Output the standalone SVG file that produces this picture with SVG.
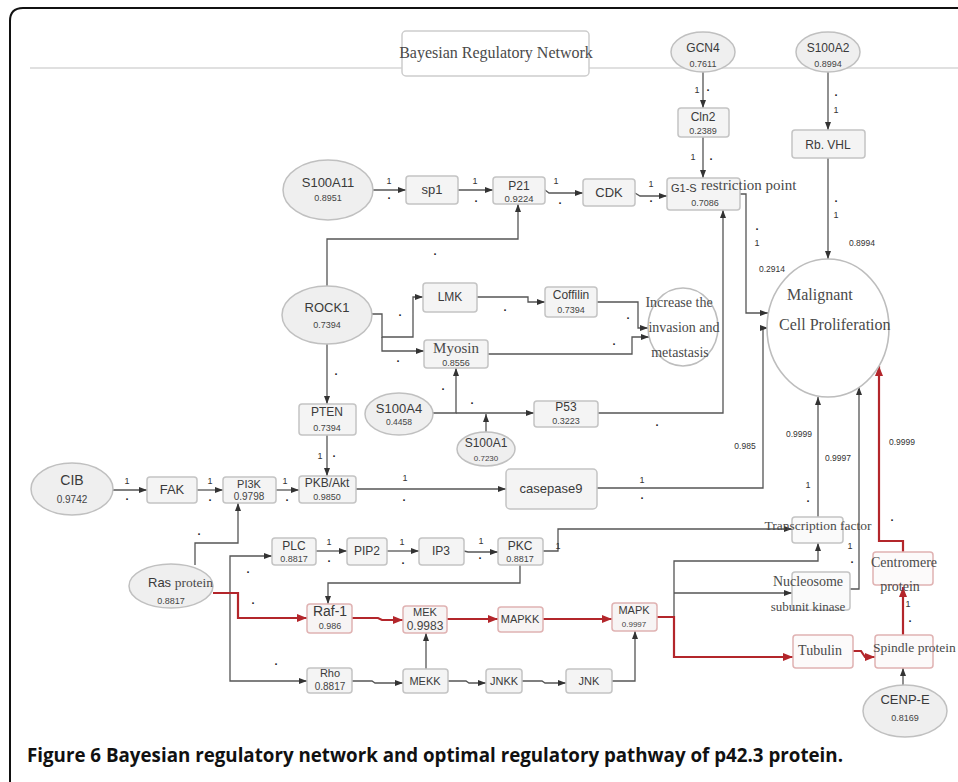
<svg xmlns="http://www.w3.org/2000/svg" width="958" height="782" viewBox="0 0 958 782">
<defs>
<marker id="ag" markerUnits="userSpaceOnUse" markerWidth="8" markerHeight="6" refX="8" refY="3" orient="auto"><path d="M0,0 L8,3 L0,6 z" fill="#333"/></marker>
<marker id="ar" markerUnits="userSpaceOnUse" markerWidth="10" markerHeight="8" refX="10" refY="4" orient="auto"><path d="M0,0 L10,4 L0,8 z" fill="#b3262b"/></marker>
<style>
.r{fill:#f4f4f4;stroke:#c4c4c4;stroke-width:1.5}
.rr{fill:#f7f4f4;stroke:#e0b2b2;stroke-width:1.5}
.e{fill:#efefef;stroke:#c0c0c0;stroke-width:1.5}
.w{fill:#fff;stroke:#bdbdbd;stroke-width:1.6}
.n{font-family:"Liberation Sans",Arial,sans-serif;fill:#3a3a3a;text-anchor:middle}
.v{font-family:"Liberation Sans",Arial,sans-serif;fill:#444;text-anchor:middle}
.s{font-family:"Liberation Serif","Times New Roman",serif;fill:#4a4a4a}
.l{font-family:"Liberation Sans",Arial,sans-serif;fill:#333;text-anchor:middle}
.d{font-family:"Liberation Sans",Arial,sans-serif;fill:#222;text-anchor:middle;font-size:11px;font-weight:bold}
.g path{fill:none;stroke:#555;stroke-width:1.3;marker-end:url(#ag)}
.red path{fill:none;stroke:#b3262b;stroke-width:2.2;marker-end:url(#ar)}
</style>
</defs>
<rect width="958" height="782" fill="#fff"/>
<path d="M958,8 H23 Q10,8 10,21 V782" fill="none" stroke="#111" stroke-width="2"/>
<line x1="30" y1="68" x2="958" y2="68" stroke="#e0e0e0" stroke-width="2"/>
<g id="title">
<rect x="402" y="31" width="187" height="45" rx="4" fill="#fff" stroke="#cdcdcd" stroke-width="1.5"/>
<text class="s" x="496" y="58" font-size="16" text-anchor="middle">Bayesian Regulatory Network</text>
</g>

<g id="connectors">
<g class="g">
<path d="M373,190 H406"/>
<path d="M458,190 H493"/>
<path d="M545,190 l4,3 H583"/>
<path d="M635,193 l5,3 H667"/>
<path d="M703,72 V108"/>
<path d="M703,137 V178"/>
<path d="M828,72 V130"/>
<path d="M828,158 V259"/>
<path d="M740,194 H746 V313 H768"/>
<path d="M327,286 V239 H518 V204"/>
<path d="M372,314 H382 V337 H413 V297 H423"/>
<path d="M382,337 V351 H424"/>
<path d="M477,297 H528 V302 H545"/>
<path d="M597,302 H638 V328 H648"/>
<path d="M488,354 H632 V337 H649"/>
<path d="M327,343 V404"/>
<path d="M327,435 V476"/>
<path d="M433,413 H456 V368"/>
<path d="M456,413 H534"/>
<path d="M486,432 V414"/>
<path d="M598,413 H723 V210"/>
<path d="M113,490 H147"/>
<path d="M197,490 H223"/>
<path d="M276,490 H299"/>
<path d="M356,489 H506"/>
<path d="M597,488 H763 V328 H768"/>
<path d="M195,565 V543 H238 V503"/>
<path d="M230,593 V556 H272"/>
<path d="M230,593 V681 H307"/>
<path d="M316,551 H347"/>
<path d="M387,551 H419"/>
<path d="M464,551 l4,1 H498"/>
<path d="M520,565 V583 H328 V604"/>
<path d="M543,551 H558 V529 H792"/>
<path d="M352,681 H372 l3,2 H403"/>
<path d="M448,681 H466 l3,2 H486"/>
<path d="M522,681 H542 l3,2 H566"/>
<path d="M612,681 H635 V631"/>
<path d="M426,669 V633"/>
<path d="M674,617 V561 H818 V543"/>
<path d="M674,593 H792"/>
<path d="M818,517 V397"/>
<path d="M850,589 H859 V387"/>
<path d="M903,685 V668"/>
</g>
<g class="red">
<path d="M213,593 H238 V618 H307"/>
<path d="M352,618 H378 l4,2 H403"/>
<path d="M447,619 H498"/>
<path d="M543,619 H612"/>
<path d="M657,617 H674 V657 H793"/>
<path d="M853,651 H861 l4,6 H875"/>
<path d="M903,635 V587"/>
<path d="M903,552 V541 H879 V366"/>
</g>
<g id="edge-labels" font-size="9">
<text class="l" x="389" y="184">1</text><text class="d" x="389" y="199">.</text>
<text class="l" x="475" y="184">1</text><text class="d" x="476" y="202">.</text>
<text class="l" x="556" y="184">1</text><text class="d" x="560" y="204">.</text>
<text class="l" x="651" y="187">1</text><text class="d" x="651" y="202">.</text>
<text class="l" x="697" y="93">1</text><text class="d" x="708" y="91">.</text>
<text class="l" x="693" y="160">1</text><text class="d" x="711" y="160">.</text>
<text class="d" x="836" y="96">.</text><text class="l" x="836" y="113">1</text>
<text class="d" x="836" y="202">.</text><text class="l" x="836" y="218">1</text>
<text class="l" x="862" y="246" font-size="8.5">0.8994</text>
<text class="d" x="757" y="230">.</text><text class="l" x="757" y="246">1</text>
<text class="l" x="772" y="272" font-size="8.5">0.2914</text>
<text class="d" x="435" y="255">.</text>
<text class="d" x="400" y="316">.</text>
<text class="d" x="398" y="362">.</text>
<text class="d" x="505" y="311">.</text>
<text class="d" x="628" y="319">.</text>
<text class="d" x="614" y="345">.</text>
<text class="d" x="336" y="375">.</text>
<text class="l" x="320" y="459">1</text><text class="d" x="334" y="457">.</text>
<text class="d" x="443" y="390">.</text>
<text class="d" x="472" y="404">.</text>
<text class="d" x="657" y="426">.</text>
<text class="l" x="127" y="484">1</text><text class="d" x="127" y="500">.</text>
<text class="l" x="210" y="484">1</text><text class="d" x="210" y="501">.</text>
<text class="l" x="285" y="484">1</text><text class="d" x="287" y="501">.</text>
<text class="l" x="405" y="481">1</text><text class="d" x="404" y="501">.</text>
<text class="l" x="642" y="483">1</text><text class="d" x="642" y="499">.</text>
<text class="l" x="745" y="449" font-size="8.5">0.985</text>
<text class="d" x="199" y="535">.</text>
<text class="d" x="248" y="573">.</text>
<text class="d" x="253" y="604">.</text>
<text class="d" x="276" y="665">.</text>
<text class="l" x="329" y="545">1</text><text class="d" x="329" y="562">.</text>
<text class="l" x="402" y="545">1</text><text class="d" x="403" y="564">.</text>
<text class="l" x="481" y="544">1</text><text class="d" x="480" y="559">.</text>
<text class="l" x="558" y="549">1</text>
<text class="l" x="799" y="437" font-size="8.5">0.9999</text>
<text class="l" x="808" y="488">1</text><text class="d" x="808" y="502">.</text>
<text class="l" x="838" y="461" font-size="8.5">0.9997</text>
<text class="l" x="850" y="549">1</text><text class="d" x="852" y="563">.</text>
<text class="l" x="908" y="607">1</text><text class="d" x="910" y="622">.</text>
<text class="l" x="902" y="445" font-size="8.5">0.9999</text>
<text class="d" x="892" y="521">.</text>
</g>
</g>

<g id="S100A11"><ellipse class="e" cx="328" cy="190" rx="45" ry="30"/><text class="n" x="328" y="187" font-size="13">S100A11</text><text class="v" x="328" y="201" font-size="9">0.8951</text></g>
<g id="sp1"><rect class="r" x="406" y="176" width="52" height="28" rx="3"/><text class="n" x="432" y="194" font-size="13">sp1</text></g>
<g id="P21"><rect class="r" x="493" y="177" width="52" height="27" rx="3"/><text class="n" x="519" y="190" font-size="12">P21</text><text class="v" x="519" y="202" font-size="9.5">0.9224</text></g>
<g id="CDK"><rect class="r" x="583" y="179" width="52" height="27" rx="3"/><text class="n" x="609" y="197" font-size="13">CDK</text></g>
<g id="G1-S"><rect class="r" x="667" y="178" width="73" height="32" rx="3"/><text class="n" x="671" y="192" font-size="11" style="text-anchor:start">G1-S</text><text class="s" x="701" y="190" font-size="15">restriction point</text><text class="v" x="705" y="206" font-size="9">0.7086</text></g>
<g id="GCN4"><ellipse class="e" cx="703" cy="52" rx="32" ry="20"/><text class="n" x="703" y="52" font-size="12">GCN4</text><text class="v" x="703" y="67" font-size="9">0.7611</text></g>
<g id="Cln2"><rect class="r" x="678" y="108" width="51" height="29" rx="3"/><text class="n" x="703" y="121" font-size="12">Cln2</text><text class="v" x="703" y="134" font-size="9">0.2389</text></g>
<g id="S100A2"><ellipse class="e" cx="828" cy="52" rx="32" ry="20"/><text class="n" x="828" y="52" font-size="12">S100A2</text><text class="v" x="828" y="67" font-size="9">0.8994</text></g>
<g id="RbVHL"><rect class="r" x="792" y="130" width="73" height="28" rx="3"/><text class="n" x="828" y="149" font-size="12">Rb. VHL</text></g>
<g id="Malignant"><ellipse class="w" cx="828" cy="328" rx="61" ry="69"/><text class="s" x="787" y="300" font-size="16">Malignant</text><text class="s" x="779" y="330" font-size="16">Cell Proliferation</text></g>
<g id="ROCK1"><ellipse class="e" cx="327" cy="315" rx="45" ry="29"/><text class="n" x="327" y="312" font-size="13">ROCK1</text><text class="v" x="327" y="328" font-size="9">0.7394</text></g>
<g id="LMK"><rect class="r" x="423" y="283" width="54" height="29" rx="3"/><text class="n" x="450" y="301" font-size="12">LMK</text></g>
<g id="Coffilin"><rect class="r" x="545" y="287" width="52" height="30" rx="3"/><text class="n" x="571" y="299" font-size="12">Coffilin</text><text class="v" x="571" y="313" font-size="9">0.7394</text></g>
<g id="Myosin"><rect class="r" x="424" y="340" width="64" height="28" rx="3"/><text class="s" x="456" y="353" font-size="15" text-anchor="middle">Myosin</text><text class="v" x="456" y="366" font-size="9">0.8556</text></g>
<g id="Increase"><ellipse class="w" cx="683" cy="327" rx="35" ry="39"/><text class="s" x="679" y="307" font-size="14" text-anchor="middle">Increase the</text><text class="s" x="684" y="332" font-size="14" text-anchor="middle">invasion and</text><text class="s" x="680" y="357" font-size="14" text-anchor="middle">metastasis</text></g>
<g id="PTEN"><rect class="r" x="299" y="404" width="57" height="31" rx="3"/><text class="n" x="327" y="416" font-size="12">PTEN</text><text class="v" x="327" y="431" font-size="9">0.7394</text></g>
<g id="S100A4"><ellipse class="e" cx="399" cy="414" rx="34" ry="21"/><text class="n" x="399" y="413" font-size="13">S100A4</text><text class="v" x="399" y="425" font-size="8.5">0.4458</text></g>
<g id="S100A1"><ellipse class="e" cx="486" cy="449" rx="29" ry="17"/><text class="n" x="486" y="447" font-size="12">S100A1</text><text class="v" x="486" y="461" font-size="8">0.7230</text></g>
<g id="P53"><rect class="r" x="534" y="401" width="64" height="26" rx="3"/><text class="n" x="566" y="411" font-size="12">P53</text><text class="v" x="566" y="424" font-size="9">0.3223</text></g>
<g id="CIB"><ellipse class="e" cx="72" cy="489" rx="41" ry="26"/><text class="n" x="72" y="485" font-size="14">CIB</text><text class="v" x="72" y="503" font-size="10">0.9742</text></g>
<g id="FAK"><rect class="r" x="147" y="477" width="50" height="26" rx="3"/><text class="n" x="172" y="494" font-size="13">FAK</text></g>
<g id="PI3K"><rect class="r" x="223" y="477" width="53" height="26" rx="3"/><text class="n" x="249" y="488" font-size="11">PI3K</text><text class="v" x="249" y="500" font-size="10">0.9798</text></g>
<g id="PKBAkt"><rect class="r" x="299" y="476" width="57" height="27" rx="3"/><text class="n" x="327" y="487" font-size="12">PKB/Akt</text><text class="v" x="327" y="500" font-size="9">0.9850</text></g>
<g id="casepase9"><rect class="r" x="506" y="469" width="91" height="40" rx="4"/><text class="n" x="551" y="493" font-size="13">casepase9</text></g>
<g id="Ras"><ellipse class="e" cx="171" cy="586" rx="42" ry="22"/><text x="148" y="587" font-size="13"><tspan class="n" style="text-anchor:start">Ras </tspan><tspan class="s" font-size="13.5">protein</tspan></text><text class="v" x="171" y="604" font-size="9">0.8817</text></g>
<g id="PLC"><rect class="r" x="272" y="538" width="44" height="27" rx="3"/><text class="n" x="294" y="550" font-size="12">PLC</text><text class="v" x="294" y="562" font-size="9">0.8817</text></g>
<g id="PIP2"><rect class="r" x="347" y="538" width="40" height="27" rx="3"/><text class="n" x="367" y="555" font-size="12">PIP2</text></g>
<g id="IP3"><rect class="r" x="419" y="538" width="45" height="27" rx="3"/><text class="n" x="441" y="555" font-size="12">IP3</text></g>
<g id="PKC"><rect class="r" x="498" y="538" width="45" height="27" rx="3"/><text class="n" x="520" y="550" font-size="12">PKC</text><text class="v" x="520" y="562" font-size="9">0.8817</text></g>
<g id="Raf-1"><rect class="rr" x="307" y="604" width="45" height="29" rx="3"/><text class="n" x="330" y="616" font-size="14">Raf-1</text><text class="v" x="330" y="629" font-size="9">0.986</text></g>
<g id="MEK"><rect class="rr" x="403" y="606" width="44" height="27" rx="3"/><text class="n" x="425" y="616" font-size="11">MEK</text><text class="v" x="425" y="630" font-size="12">0.9983</text></g>
<g id="MAPKK"><rect class="rr" x="498" y="607" width="45" height="25" rx="3"/><text class="n" x="520" y="623" font-size="11">MAPKK</text></g>
<g id="MAPK"><rect class="rr" x="612" y="603" width="45" height="28" rx="3"/><text class="n" x="634" y="614" font-size="11">MAPK</text><text class="v" x="634" y="627" font-size="8">0.9997</text></g>
<g id="Rho"><rect class="r" x="307" y="668" width="45" height="25" rx="3"/><text class="n" x="330" y="677" font-size="11">Rho</text><text class="v" x="330" y="690" font-size="10">0.8817</text></g>
<g id="MEKK"><rect class="r" x="403" y="669" width="45" height="24" rx="3"/><text class="n" x="425" y="685" font-size="11">MEKK</text></g>
<g id="JNKK"><rect class="r" x="486" y="669" width="36" height="24" rx="3"/><text class="n" x="504" y="685" font-size="11">JNKK</text></g>
<g id="JNK"><rect class="r" x="566" y="669" width="46" height="24" rx="3"/><text class="n" x="589" y="685" font-size="11">JNK</text></g>
<g id="Transcription"><rect class="r" x="792" y="517" width="51" height="26" rx="3" style="fill:#fafafa"/><text class="s" x="818" y="530" font-size="13.5" text-anchor="middle">Transcription factor</text></g>
<g id="Nucleosome"><rect class="r" x="792" y="572" width="58" height="38" rx="3" style="fill:#fafafa"/><text class="s" x="808" y="586" font-size="14" text-anchor="middle">Nucleosome</text><text class="s" x="808" y="611" font-size="13" text-anchor="middle">subunit kinase</text></g>
<g id="Tubulin"><rect class="rr" x="793" y="635" width="60" height="33" rx="3" style="fill:#fcfafa"/><text class="s" x="820" y="655" font-size="14" text-anchor="middle">Tubulin</text></g>
<g id="Spindle"><rect class="rr" x="875" y="635" width="58" height="33" rx="3" style="fill:#fcfafa"/><text class="s" x="873" y="652" font-size="13.5">Spindle protein</text></g>
<g id="Centromere"><rect class="rr" x="873" y="552" width="60" height="33" rx="3" style="fill:#fcfafa"/><text class="s" x="904" y="567" font-size="14" text-anchor="middle">Centromere</text><text class="s" x="900" y="591" font-size="14" text-anchor="middle">protein</text></g>
<g id="CENP-E"><ellipse class="e" cx="905" cy="711" rx="42" ry="26"/><text class="n" x="905" y="704" font-size="13">CENP-E</text><text class="v" x="905" y="721" font-size="9">0.8169</text></g>

<text x="27" y="762" font-family="'Open Sans','Liberation Sans',Arial,sans-serif" font-weight="bold" font-size="19" fill="#111" textLength="816" lengthAdjust="spacingAndGlyphs">Figure 6 Bayesian regulatory network and optimal regulatory pathway of p42.3 protein.</text>
</svg>
